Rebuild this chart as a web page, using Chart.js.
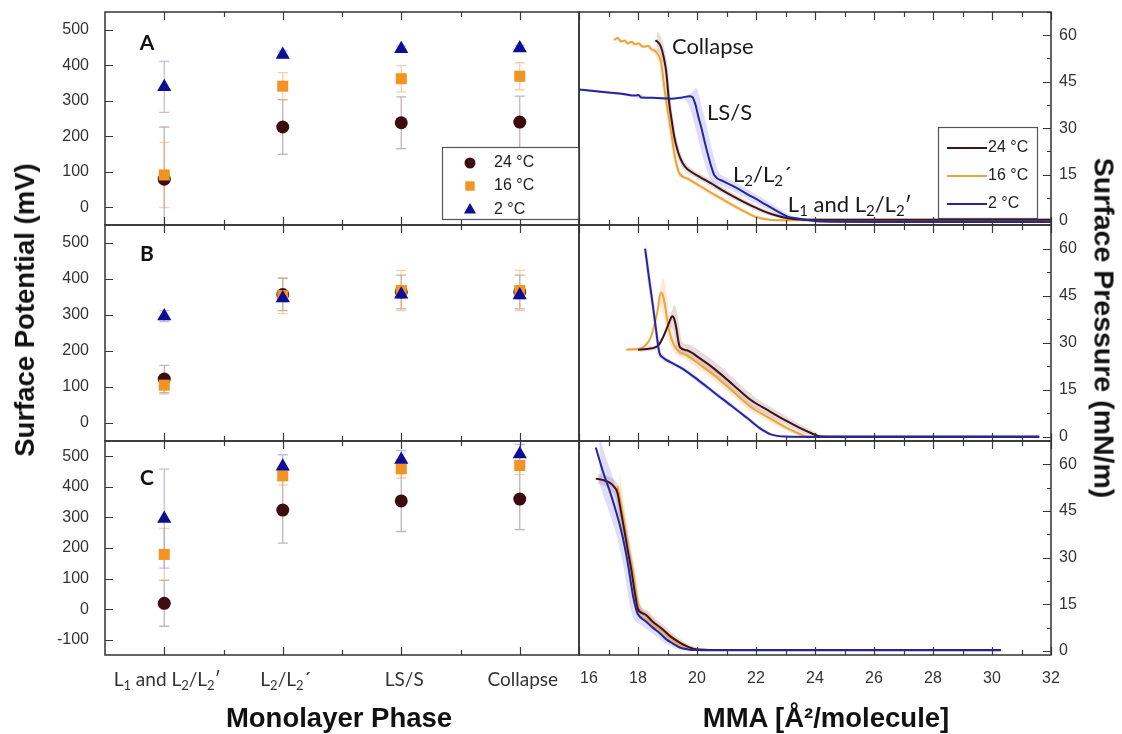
<!DOCTYPE html>
<html>
<head>
<meta charset="utf-8">
<title>Surface potential and isotherms</title>
<script src="https://cdn.jsdelivr.net/npm/chart.js@4.4.1/dist/chart.umd.min.js"></script>
<style>
  body { margin: 0; background: #fff; }
  #fig { position: relative; width: 1122px; height: 734px; overflow: hidden; background: #fff; }
  #fig canvas { position: absolute; left: 0; top: 0; }
  .ttl { position: absolute; font-family: "Liberation Sans", Arial, sans-serif; font-weight: bold;
         font-size: 27.5px; color: #111; white-space: nowrap; }
</style>
</head>
<body>
<div id="fig">
  <canvas id="potA" width="1122" height="734"></canvas>
  <canvas id="potB" width="1122" height="734"></canvas>
  <canvas id="potC" width="1122" height="734"></canvas>
  <canvas id="isoA" width="1122" height="734"></canvas>
  <canvas id="isoB" width="1122" height="734"></canvas>
  <canvas id="isoC" width="1122" height="734"></canvas>
  <div class="ttl" style="left:25px;top:310px;transform:translate(-50%,-50%) rotate(-90deg)">Surface Potential (mV)</div>
  <div class="ttl" style="left:1104px;top:328px;font-size:28.5px;transform:translate(-50%,-50%) rotate(90deg)">Surface Pressure (mN/m)</div>
  <div class="ttl" style="left:339px;top:718px;transform:translate(-50%,-50%)">Monolayer Phase</div>
  <div class="ttl" style="left:826px;top:718px;transform:translate(-50%,-50%)">MMA [Å²/molecule]</div>
</div>
<script>
// phases on the left x axis ("_1" = subscript 1) and the three temperatures
const phases = ['L_1 and L_2/L_2′', 'L_2/L_2´', 'LS/S', 'Collapse'];
const temps = ['24 °C', '16 °C', '2 °C'];

// surface potential (mV) per phase, mean and error
const potA24 = [79, 226, 238, 240];
const potA16 = [91, 341, 362, 369];
const potA2 = [339, 430, 446, 448];
const errA24 = [147, 77, 73, 73];
const errA16 = [92, 38, 37, 38];
const errA2 = [72, 10, 8, 8];

const potB24 = [122, 357, 364, 364];
const potB16 = [105, 354, 368, 368];
const potB2 = [297, 347, 357, 355];
const errB24 = [38, 45, 47, 47];
const errB16 = [25, 50, 56, 56];
const errB2 = [15, 10, 10, 10];

const potC24 = [19, 324, 354, 360];
const potC16 = [179, 436, 459, 470];
const potC2 = [296, 467, 489, 507];
const errC24 = [75, 108, 100, 100];
const errC16 = [85, 30, 30, 30];
const errC2 = [162, 38, 30, 32];

// isotherms: [MMA (Å²/molecule), surface pressure (mN/m), sd]
const isoA24 = [[18.59, 58.4, 3.0], [18.7, 57.5, 2.5], [18.78, 56.2, 2.0], [18.87, 53.0, 1.5], [18.95, 48.7, 1.2],
  [19.06, 38.0, 1.0], [19.15, 32.0, 1.0], [19.23, 27.2, 1.0], [19.35, 22.5, 0.9], [19.46, 19.7, 0.8], [19.6, 17.5, 0.8],
  [19.8, 15.9, 0.8], [20.1, 14.2, 0.8], [20.47, 12.2, 0.8], [20.85, 10.0, 0.7], [21.26, 7.8, 0.7], [21.7, 5.6, 0.6],
  [22.17, 3.5, 0.6], [22.6, 2.0, 0.5], [23.07, 0.9, 0.5], [23.5, 0.5, 0.5], [24, 0.4, 0.5], [26, 0.4, 0.5],
  [28, 0.4, 0.5], [30, 0.4, 0.5], [32, 0.4, 0.5]];
const isoA16 = [[17.19, 58.4, 0.4], [17.3, 59.2, 0.4], [17.42, 58.0, 0.4], [17.55, 58.3, 0.4], [17.65, 57.3, 0.4],
  [17.78, 57.9, 0.4], [17.9, 57.0, 0.4], [18.02, 57.4, 0.4], [18.12, 56.5, 0.4], [18.22, 56.3, 0.4], [18.34, 56.6, 0.4],
  [18.45, 55.5, 0.5], [18.54, 55.2, 0.6], [18.66, 54.0, 1.0], [18.78, 51.4, 1.2], [18.89, 43.3, 1.2], [18.97, 38.0, 1.2],
  [19.06, 32.6, 1.2], [19.15, 27.0, 1.0], [19.23, 21.8, 0.8], [19.32, 17.8, 0.6], [19.4, 15.4, 0.5], [19.7, 13.6, 0.5],
  [20.1, 11.3, 0.5], [20.5, 9.0, 0.5], [20.9, 6.8, 0.4], [21.3, 4.6, 0.4], [21.7, 2.6, 0.3], [22.0, 1.3, 0.3],
  [22.4, 0.5, 0.3], [23, 0.2, 0.3], [24, 0.2, 0.3], [26, 0.2, 0.3], [28, 0.2, 0.3], [30, 0.2, 0.3], [32, 0.2, 0.3]];
const isoA2 = [[16.0, 42.5, 0.3], [16.5, 42.0, 0.3], [17.0, 41.5, 0.3], [17.5, 41.0, 0.3], [17.9, 40.5, 0.3],
  [18.02, 40.7, 0.3], [18.1, 39.9, 0.3], [18.5, 39.8, 0.3], [19.12, 39.5, 0.3], [19.5, 39.9, 0.5], [19.74, 40.3, 1.5],
  [19.85, 40.0, 3.0], [19.95, 37.5, 3.0], [20.05, 33.5, 3.0], [20.14, 30.4, 3.0], [20.25, 26.0, 2.8], [20.36, 21.8, 2.5],
  [20.47, 18.0, 2.0], [20.59, 14.8, 1.5], [20.9, 12.8, 1.2], [21.26, 11.1, 1.0], [21.7, 8.7, 0.9], [22.17, 6.2, 0.8],
  [22.6, 3.8, 0.6], [23.07, 1.4, 0.4], [23.4, 0.8, 0.3], [23.75, 0.3, 0.3], [24.2, -0.2, 0.3], [26, -0.3, 0.3],
  [28, -0.3, 0.3], [30, -0.3, 0.3], [32, -0.3, 0.3]];

const isoB24 = [[18.0, 27.8, 0.8], [18.3, 28.0, 0.8], [18.6, 28.6, 1.0], [18.72, 29.5, 1.5], [18.83, 31.4, 2.0],
  [18.95, 34.0, 2.5], [19.07, 36.8, 3.0], [19.16, 38.4, 3.5], [19.23, 37.5, 3.0], [19.3, 34.6, 2.5], [19.36, 31.0, 2.0],
  [19.42, 28.6, 1.8], [19.66, 27.6, 1.8], [20.1, 25.0, 1.8], [20.6, 21.6, 1.8], [21.2, 16.8, 1.6], [21.8, 11.9, 1.4],
  [22.4, 8.5, 1.2], [22.97, 5.4, 1.0], [23.5, 2.8, 0.8], [23.9, 1.1, 0.6], [24.15, 0.2, 0.4], [25, 0.1, 0.3],
  [26, 0.1, 0.3], [28, 0.1, 0.3], [30, 0.1, 0.3], [31.6, 0.1, 0.3]];
const isoB16 = [[17.6, 27.8, 0.6], [17.85, 27.9, 0.6], [18.07, 28.1, 0.7], [18.25, 29.2, 1.0], [18.42, 31.4, 1.5],
  [18.55, 35.5, 2.5], [18.66, 40.0, 3.5], [18.77, 46.0, 4.5], [18.85, 45.0, 4.0], [18.93, 41.0, 3.0], [19.02, 35.5, 2.0],
  [19.13, 31.4, 1.5], [19.3, 28.0, 1.2], [19.66, 26.0, 1.2], [20.1, 23.0, 1.2], [20.6, 19.5, 1.2], [21.2, 14.6, 1.0],
  [21.8, 9.7, 0.9], [22.4, 6.3, 0.8], [22.97, 3.2, 0.6], [23.44, 1.1, 0.4], [23.7, 0.2, 0.3], [24.5, 0.0, 0.3],
  [26, 0.0, 0.3], [28, 0.0, 0.3], [30, 0.0, 0.3], [31.6, 0.0, 0.3]];
const isoB2 = [[18.24, 60.0, 2.0], [18.36, 51.5, 1.5], [18.48, 43.5, 1.2], [18.6, 35.0, 1.0], [18.72, 27.0, 0.8],
  [18.83, 25.4, 0.6], [19.1, 23.8, 0.5], [19.42, 22.2, 0.5], [19.7, 20.5, 0.5], [20.0, 18.4, 0.5], [20.6, 14.0, 0.5],
  [21.2, 9.7, 0.5], [21.7, 6.0, 0.4], [22.14, 2.7, 0.4], [22.5, 0.8, 0.3], [23.0, 0.1, 0.3], [24, 0.0, 0.3],
  [26, 0.0, 0.3], [28, 0.0, 0.3], [30, 0.0, 0.3], [31.6, 0.0, 0.3]];

const isoC24 = [[16.57, 55.4, 1.5], [16.8, 55.0, 1.5], [17.0, 54.3, 1.5], [17.15, 53.2, 1.5], [17.3, 50.9, 1.5],
  [17.42, 45.0, 1.5], [17.53, 39.1, 1.5], [17.65, 32.5, 1.5], [17.77, 26.3, 1.5], [17.88, 19.5, 1.4], [18.0, 13.4, 1.2],
  [18.24, 11.8, 1.2], [18.5, 9.4, 1.1], [18.83, 7.0, 1.0], [19.1, 4.7, 0.9], [19.42, 2.7, 0.7], [19.7, 1.3, 0.5],
  [20.0, 0.5, 0.4], [21, 0.3, 0.3], [22, 0.3, 0.3], [24, 0.3, 0.3], [26, 0.3, 0.3], [28, 0.3, 0.3], [30.3, 0.3, 0.3]];
const isoC16 = [[17.3, 53.0, 5.0], [17.42, 47.0, 3.0], [17.53, 41.0, 2.0], [17.65, 34.0, 1.5], [17.75, 28.5, 1.5],
  [17.83, 25.0, 1.5], [17.92, 19.5, 1.4], [18.0, 14.5, 1.3], [18.24, 11.3, 1.2], [18.5, 8.8, 1.0], [18.83, 6.4, 0.9],
  [19.1, 4.2, 0.8], [19.42, 2.1, 0.6], [19.7, 1.0, 0.4], [20.0, 0.5, 0.3], [21, 0.3, 0.3], [22, 0.3, 0.3],
  [24, 0.3, 0.3], [26, 0.3, 0.3], [28, 0.3, 0.3], [30.3, 0.3, 0.3]];
const isoC2 = [[16.57, 65.4, 3.5], [16.8, 58.0, 4.0], [17.06, 50.9, 4.0], [17.25, 45.0, 3.5], [17.42, 39.1, 3.0],
  [17.55, 33.5, 3.0], [17.65, 28.4, 2.5], [17.75, 22.5, 2.5], [17.83, 17.7, 2.2], [17.92, 14.0, 2.0], [18.0, 11.8, 1.8],
  [18.25, 9.6, 1.5], [18.5, 7.5, 1.2], [18.75, 5.6, 1.0], [18.95, 3.8, 0.8], [19.2, 2.3, 0.6], [19.42, 1.1, 0.5],
  [19.7, 0.5, 0.4], [20.0, 0.3, 0.3], [21, 0.2, 0.3], [22, 0.2, 0.3], [24, 0.2, 0.3], [26, 0.2, 0.3], [28, 0.2, 0.3],
  [30.3, 0.2, 0.3]];

// spread along the MMA axis for each isotherm band
const mmaSpreadA = [0.05, 0.05, 0.12];
const mmaSpreadB = [0.07, 0.06, 0.04];
const mmaSpreadC = [0.07, 0.07, 0.12];

const W = 1122, H = 734;
const rows = [{ top: 12, bottom: 225 }, { top: 225, bottom: 441 }, { top: 441, bottom: 655 }];
const leftCol = { left: 105, right: 579 };
const rightCol = { left: 579, right: 1051 };

const SANS = '"Liberation Sans", Arial, sans-serif';
const HUMAN = 'Lato, "Open Sans", sans-serif';

const tempStyle = [
  { color: '#3d0c10', line: '#3b1518', band: 'rgba(150, 80, 90, 0.22)', err: 'rgba(125, 85, 90, 0.45)', point: 'circle', r: 6.5 },
  { color: '#f39324', line: '#eca43d', band: 'rgba(240, 170, 70, 0.25)', err: 'rgba(240, 170, 100, 0.55)', point: 'rect', r: 7.8 },
  { color: '#0d0d96', line: '#26269c', band: 'rgba(90, 90, 225, 0.2)', err: 'rgba(110, 110, 200, 0.45)', point: 'triangle', r: 8.2 }
];

function range(a, b, step) {
  const out = [];
  for (let v = a; v <= b + 1e-9; v += step) out.push(Math.round(v * 1000) / 1000);
  return out;
}

// text with "_n" subscripts
function richText(ctx, str, x, y, size, family, align, weight) {
  const parts = str.split(/(_\d)/).filter(Boolean)
    .map(s => s[0] === '_' ? { t: s.slice(1), sub: true } : { t: s, sub: false });
  const big = `${weight || 'normal'} ${size}px ${family}`;
  const small = `${weight || 'normal'} ${Math.round(size * 0.68)}px ${family}`;
  let w = 0;
  parts.forEach(p => { ctx.font = p.sub ? small : big; p.w = ctx.measureText(p.t).width; w += p.w; });
  let cx = align === 'center' ? x - w / 2 : align === 'right' ? x - w : x;
  ctx.textAlign = 'left';
  ctx.textBaseline = 'alphabetic';
  parts.forEach(p => {
    ctx.font = p.sub ? small : big;
    ctx.fillText(p.t, cx, p.sub ? y + size * 0.2 : y);
    cx += p.w;
  });
}

const framePlugin = {
  id: 'frame',
  beforeDatasetsDraw(chart, args, o) {
    if (!o.errors) return;
    const { ctx, chartArea: a, scales: { x, y } } = chart;
    ctx.save();
    ctx.beginPath();
    ctx.rect(a.left, a.top, a.right - a.left, a.bottom - a.top);
    ctx.clip();
    ctx.lineWidth = 1.3;
    o.errors.forEach((err, di) => {
      ctx.strokeStyle = tempStyle[di].err;
      chart.data.datasets[di].data.forEach((p, i) => {
        const px = x.getPixelForValue(p.x);
        const lo = y.getPixelForValue(p.y - err[i]);
        const hi = y.getPixelForValue(p.y + err[i]);
        ctx.beginPath();
        ctx.moveTo(px, lo); ctx.lineTo(px, hi);
        ctx.moveTo(px - 5, lo); ctx.lineTo(px + 5, lo);
        ctx.moveTo(px - 5, hi); ctx.lineTo(px + 5, hi);
        ctx.stroke();
      });
    });
    ctx.restore();
  },
  afterDatasetsDraw(chart, args, o) {
    const { ctx, chartArea: a, scales: { x, y } } = chart;
    ctx.save();
    ctx.strokeStyle = '#3a3a3a';
    ctx.lineWidth = 1.2;
    ctx.beginPath();
    const xTick = (v, len) => {
      const px = Math.round(x.getPixelForValue(v)) + 0.5;
      ctx.moveTo(px, a.top); ctx.lineTo(px, a.top + len);
      ctx.moveTo(px, a.bottom); ctx.lineTo(px, a.bottom - len);
    };
    o.xMajor.forEach(v => xTick(v, 8));
    o.xMinor.forEach(v => xTick(v, 5));
    const yx = o.ySide === 'left' ? a.left : a.right;
    const dir = o.ySide === 'left' ? 1 : -1;
    const yTick = (v, len) => {
      const py = Math.round(y.getPixelForValue(v)) + 0.5;
      ctx.moveTo(yx, py); ctx.lineTo(yx + dir * len, py);
    };
    o.yMajor.forEach(v => yTick(v, 8));
    o.yMinor.forEach(v => yTick(v, 4));
    ctx.stroke();

    ctx.lineWidth = 1.5;
    ctx.strokeStyle = '#333';
    ctx.strokeRect(a.left, a.top, a.right - a.left, a.bottom - a.top);

    // tick labels
    ctx.fillStyle = '#333';
    ctx.font = `16px ${SANS}`;
    ctx.textBaseline = 'middle';
    ctx.textAlign = o.ySide === 'left' ? 'right' : 'left';
    o.yMajor.forEach(v => {
      ctx.fillText(String(v), o.ySide === 'left' ? a.left - 16 : a.right + 8, y.getPixelForValue(v));
    });
    if (o.xLabels) {
      o.xMajor.forEach((v, i) => {
        const px = x.getPixelForValue(v);
        if (o.xLabels === 'phase') {
          ctx.fillStyle = '#333';
          richText(ctx, phases[i], px + 3, 686, 19, HUMAN, 'center');
        } else {
          ctx.font = `16px ${SANS}`;
          ctx.textAlign = 'center';
          ctx.textBaseline = 'middle';
          const t = String(v);
          const half = ctx.measureText(t).width / 2;
          ctx.fillText(t, Math.max(px, a.left + half + 1), 679);
        }
      });
    }

    // panel letter and phase notes
    ctx.fillStyle = '#111';
    if (o.letter) richText(ctx, o.letter, a.left + 42, a.top + o.letterDy, 21, HUMAN, 'center', 'bold');
    (o.notes || []).forEach(n => {
      ctx.fillStyle = '#1a1a1a';
      richText(ctx, n.text, x.getPixelForValue(n.mma), y.getPixelForValue(n.pi) + 8, 22, HUMAN, 'left');
    });

    // legend
    if (o.legend) {
      const L = o.legend;
      ctx.fillStyle = '#fff';
      ctx.fillRect(L.x, L.y, L.w, L.h);
      ctx.strokeStyle = '#555';
      ctx.lineWidth = 1.2;
      ctx.strokeRect(L.x + 0.5, L.y + 0.5, L.w, L.h);
      temps.forEach((t, i) => {
        const st = tempStyle[i];
        const cy = L.rows[i];
        if (L.kind === 'marker') {
          ctx.fillStyle = st.color;
          Chart.helpers.drawPoint(ctx, { pointStyle: st.point, radius: st.r * 0.85, borderWidth: 0 }, L.x + 28, cy);
        } else {
          ctx.strokeStyle = st.line;
          ctx.lineWidth = 2;
          ctx.beginPath();
          ctx.moveTo(L.x + 9, cy); ctx.lineTo(L.x + 49, cy);
          ctx.stroke();
        }
        ctx.fillStyle = '#222';
        ctx.font = `16px ${SANS}`;
        ctx.textAlign = 'left';
        ctx.textBaseline = 'middle';
        ctx.fillText(t, L.x + L.textDx, cy);
      });
    }
    ctx.restore();
  }
};

function potentialChart(id, row, values, errors, yMin, extra) {
  const r = rows[row];
  const yTicks = range(yMin < -100 ? -100 : 0, 500, 100);
  return new Chart(document.getElementById(id), {
    type: 'scatter',
    data: {
      datasets: values.map((vals, t) => ({
        label: temps[t],
        data: vals.map((v, i) => ({ x: i + 1, y: v })),
        pointStyle: tempStyle[t].point,
        pointRadius: tempStyle[t].r,
        pointHoverRadius: tempStyle[t].r,
        backgroundColor: tempStyle[t].color,
        borderColor: tempStyle[t].color,
        borderWidth: 0,
        order: 2 - t
      }))
    },
    options: {
      responsive: false,
      animation: false,
      devicePixelRatio: 1,
      events: [],
      layout: { padding: { left: leftCol.left, right: W - leftCol.right, top: r.top, bottom: H - r.bottom } },
      scales: {
        x: { type: 'linear', display: false, min: 0.5, max: 4.5 },
        y: { type: 'linear', display: false, min: yMin, max: 550 }
      },
      plugins: {
        legend: { display: false },
        tooltip: { enabled: false },
        frame: Object.assign({
          errors,
          xMajor: range(1, 4, 1),
          xMinor: range(1.5, 4, 1),
          ySide: 'left',
          yMajor: yTicks,
          yMinor: range(yMin + 50, 550, 100)
        }, extra)
      }
    },
    plugins: [framePlugin]
  });
}

function isothermChart(id, row, series, spread, extra) {
  const r = rows[row];
  const datasets = [];
  series.forEach((pts, t) => {
    const st = tempStyle[t];
    datasets.push({
      data: pts.map(p => ({ x: p[0] + spread[t], y: p[1] + p[2] })),
      fill: '+1', backgroundColor: st.band, borderColor: 'transparent', borderWidth: 0, pointRadius: 0, order: 10
    });
    datasets.push({
      data: pts.map(p => ({ x: p[0] - spread[t], y: p[1] - p[2] })),
      fill: false, borderColor: 'transparent', borderWidth: 0, pointRadius: 0, order: 10
    });
  });
  series.forEach((pts, t) => {
    datasets.push({
      label: temps[t],
      data: pts.map(p => ({ x: p[0], y: p[1] })),
      borderColor: tempStyle[t].line, borderWidth: 2, pointRadius: 0, fill: false,
      order: t === 2 ? 0 : t === 0 ? 1 : 2
    });
  });
  return new Chart(document.getElementById(id), {
    type: 'line',
    data: { datasets },
    options: {
      responsive: false,
      animation: false,
      devicePixelRatio: 1,
      events: [],
      layout: { padding: { left: rightCol.left, right: W - rightCol.right, top: r.top, bottom: H - r.bottom } },
      elements: { line: { cubicInterpolationMode: 'monotone' } },
      scales: {
        x: { type: 'linear', display: false, min: 16, max: 32 },
        y: { type: 'linear', display: false, min: -1.3, max: 67.5 }
      },
      plugins: {
        legend: { display: false },
        tooltip: { enabled: false },
        filler: { propagate: false },
        frame: Object.assign({
          xMajor: range(16, 32, 2),
          xMinor: range(17, 31, 2),
          ySide: 'right',
          yMajor: range(0, 60, 15),
          yMinor: range(7.5, 67.5, 15)
        }, extra)
      }
    },
    plugins: [framePlugin]
  });
}

potentialChart('potA', 0, [potA24, potA16, potA2], [errA24, errA16, errA2], -50, {
  letter: 'A', letterDy: 38,
  legend: { kind: 'marker', x: 442, y: 147, w: 137, h: 72, rows: [163, 186, 210], textDx: 52 }
});
potentialChart('potB', 1, [potB24, potB16, potB2], [errB24, errB16, errB2], -50, { letter: 'B', letterDy: 36 });
potentialChart('potC', 2, [potC24, potC16, potC2], [errC24, errC16, errC2], -150, {
  letter: 'C', letterDy: 44, xLabels: 'phase'
});

isothermChart('isoA', 0, [isoA24, isoA16, isoA2], mmaSpreadA, {
  notes: [
    { text: 'Collapse', mma: 19.15, pi: 56.5 },
    { text: 'LS/S', mma: 20.34, pi: 35.2 },
    { text: 'L_2/L_2´', mma: 21.22, pi: 15.2 },
    { text: 'L_1 and L_2/L_2′', mma: 23.08, pi: 5.5 }
  ],
  legend: { kind: 'line', x: 938, y: 127, w: 99, h: 91, rows: [148, 176, 204], textDx: 50 }
});
isothermChart('isoB', 1, [isoB24, isoB16, isoB2], mmaSpreadB, {});
isothermChart('isoC', 2, [isoC24, isoC16, isoC2], mmaSpreadC, { xLabels: 'mma' });
</script>
</body>
</html>
